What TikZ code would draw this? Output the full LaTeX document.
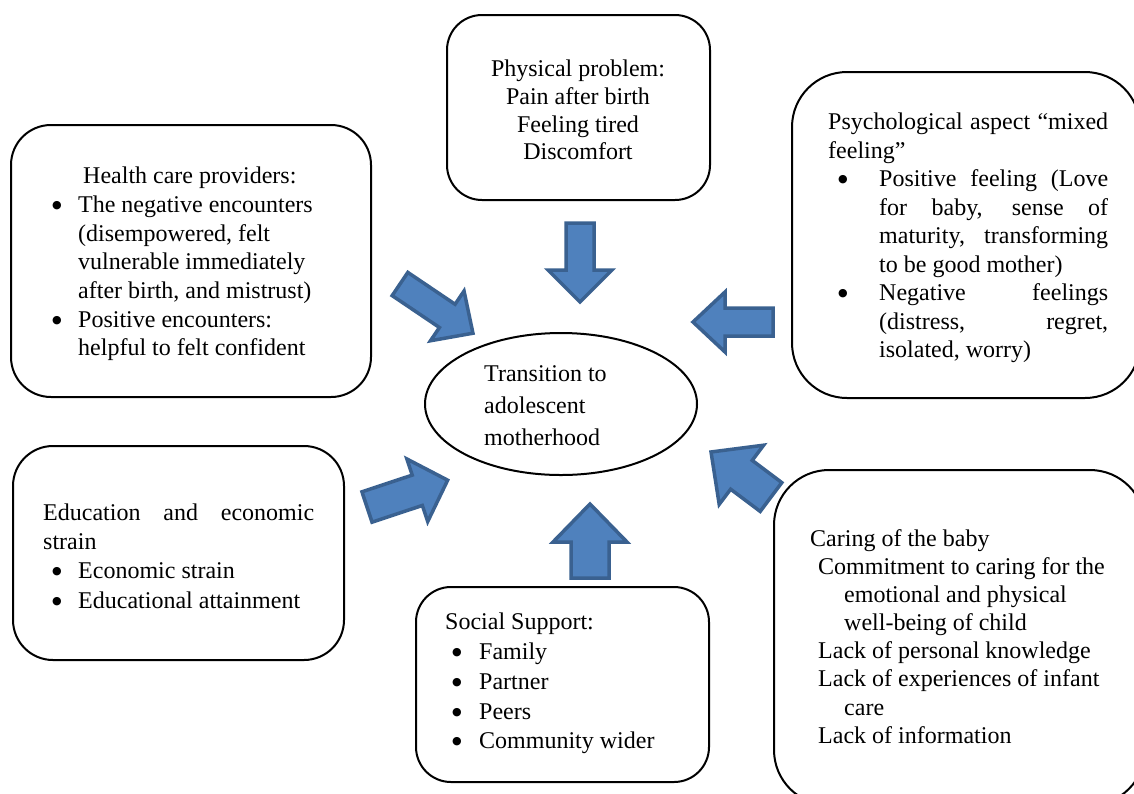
\documentclass[tikz,border=0pt]{standalone}
\usepackage{fontspec}
\setmainfont{Liberation Serif}
\newfontfamily\symfont{DejaVu Sans}
\usetikzlibrary{shapes.geometric}
\definecolor{arrowfill}{HTML}{4F81BD}
\definecolor{arrowedge}{HTML}{3A6190}
\newcommand\blockarrow[7]{% tail x, tail y, rotate, length, shaft half, head half, head length
  \begin{scope}[shift={(#1,#2)}, rotate=#3]
    \draw[barrow] (0,-#5) -- ({#4-#7},-#5) -- ({#4-#7},-#6) -- (#4,0) -- ({#4-#7},#6) -- ({#4-#7},#5) -- (0,#5) -- cycle;
  \end{scope}}
\newcommand\bul[1]{\makebox[#1][l]{\raisebox{4pt}{\symfont\fontsize{11}{11}\selectfont ●}}}
\begin{document}
\begin{tikzpicture}[x=1pt,y=-1pt,
  box/.style={draw=black, line width=2pt, rectangle, inner sep=0pt},
  txt/.style={inner sep=0pt, anchor=west, align=left, text=black},
  barrow/.style={draw=arrowedge, fill=arrowfill, line width=3.5pt, line join=miter},
]
\useasboundingbox (0,0) rectangle (1134,793);
\fill[white] (0,0) rectangle (1134,793);
\clip (0,0) rectangle (1134,793);

% boxes
\node[box, rounded corners=40pt, minimum width=360pt, minimum height=272pt] (hcp) at (191,261) {};
\node[box, rounded corners=35pt, minimum width=263pt, minimum height=185pt] (phys) at (578.5,107.5) {};
\node[box, rounded corners=55pt, minimum width=348pt, minimum height=326pt] (psych) at (966,235) {};
\node[box, rounded corners=40pt, minimum width=331pt, minimum height=214pt] (edu) at (178.5,553) {};
\node[box, rounded corners=35pt, minimum width=293pt, minimum height=195pt] (soc) at (562.5,684.5) {};
\node[box, rounded corners=55pt, minimum width=371pt, minimum height=335pt] (care) at (959.5,637.5) {};
\node[draw=black, line width=2pt, ellipse, inner sep=0pt, minimum width=272pt, minimum height=142pt] (core) at (561,404) {};

% arrows
\blockarrow{580}{223}{-90}{79}{14}{32}{32}
\blockarrow{590}{578}{90}{74}{19}{37}{38}
\blockarrow{773}{322}{180}{80}{14}{30}{32}
\blockarrow{400}{284}{-34}{88}{14}{30}{31}
\blockarrow{771}{497}{143.1}{75}{18}{37}{38}
\blockarrow{367}{507}{18.4}{85}{16}{33}{32}

% texts
\node[txt, anchor=center, align=center, font=\fontsize{24}{27.7}\selectfont] (tphys) at (578,110) {Physical problem:\\Pain after birth\\Feeling tired\\Discomfort};

\node[txt, font=\fontsize{24}{28.7}\selectfont] (thcp) at (52,264) {%
\hspace*{31pt}Health care providers:\\
\bul{26pt}The negative encounters\\
\hspace*{26pt}(disempowered, felt\\
\hspace*{26pt}vulnerable immediately\\
\hspace*{26pt}after birth, and mistrust)\\
\bul{26pt}Positive encounters:\\
\hspace*{26pt}helpful to felt confident};

\node[txt, font=\fontsize{24}{28.5}\selectfont] (tpsych) at (828,238) {%
\makebox[280pt][s]{Psychological aspect “mixed}\\
feeling”\\
\hspace*{10pt}\bul{41pt}\makebox[229pt][s]{Positive feeling (Love}\\
\hspace*{51pt}\makebox[229pt][s]{for baby, sense of}\\
\hspace*{51pt}\makebox[229pt][s]{maturity, transforming}\\
\hspace*{51pt}to be good mother)\\
\hspace*{10pt}\bul{41pt}\makebox[229pt][s]{Negative feelings}\\
\hspace*{51pt}\makebox[229pt][s]{(distress, regret,}\\
\hspace*{51pt}isolated, worry)};

\node[txt, font=\fontsize{24}{32}\selectfont] (tcore) at (484,406) {Transition to\\adolescent\\motherhood};

\node[txt, font=\fontsize{24}{29.3}\selectfont] (tedu) at (43,556) {%
\makebox[271pt][s]{Education and economic}\\
strain\\
\hspace*{9pt}\bul{26pt}Economic strain\\
\hspace*{9pt}\bul{26pt}Educational attainment};

\node[txt, font=\fontsize{24}{29.75}\selectfont] (tsoc) at (445,683.5) {%
Social Support:\\
\hspace*{7pt}\bul{27pt}Family\\
\hspace*{7pt}\bul{27pt}Partner\\
\hspace*{7pt}\bul{27pt}Peers\\
\hspace*{7pt}\bul{27pt}Community wider};

\node[txt, font=\fontsize{24}{28.1}\selectfont] (tcare) at (810,636.5) {%
Caring of the baby\\
\hspace*{8pt}Commitment to caring for the\\
\hspace*{34pt}emotional and physical\\
\hspace*{34pt}well-being of child\\
\hspace*{8pt}Lack of personal knowledge\\
\hspace*{8pt}Lack of experiences of infant\\
\hspace*{34pt}care\\
\hspace*{8pt}Lack of information};
\end{tikzpicture}
\end{document}
